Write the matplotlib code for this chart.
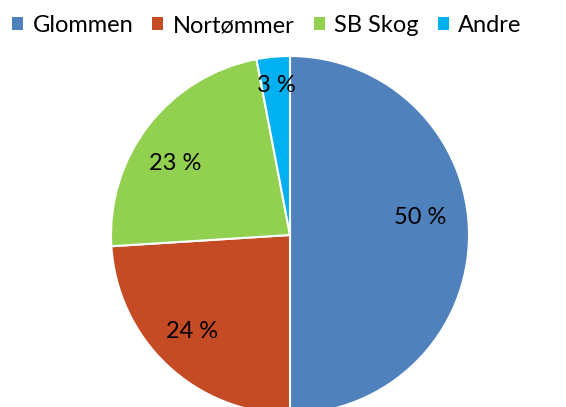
import matplotlib
matplotlib.use("Agg")
import matplotlib.pyplot as plt
from matplotlib.patches import Patch

categories = ["Glommen", "Nortømmer", "SB Skog", "Andre"]
values = [50, 24, 23, 3]
colors = ["#4F81BD", "#C54B24", "#92D050", "#00B0F0"]
label_texts = ["50 %", "24 %", "23 %", "3 %"]

plt.rcParams['font.family'] = ['Lato', 'DejaVu Sans']

W, H = 566, 407
fig = plt.figure(figsize=(W / 100, H / 100), dpi=100)
ax = fig.add_axes([0, 0, 1, 1])

cx, cy, R = 290, 235, 179  # pixels, from top
wedges, _ = ax.pie(values, colors=colors, startangle=90, counterclock=False,
                   wedgeprops=dict(edgecolor="white", linewidth=1.5))
ax.set_xlim(-cx / R, (W - cx) / R)
ax.set_ylim(-(H - cy) / R, cy / R)

# label positions (pixels) as in reference
label_px = [(420, 218), (192, 332), (175, 163), (276, 86)]
for t, (px, py) in zip(label_texts, label_px):
    ax.text((px - cx) / R, (cy - py) / R, t, ha="center", va="center",
            fontsize=17, color="black")

handles = [Patch(facecolor=c, edgecolor="none") for c in colors]
leg = fig.legend(handles, categories, loc="upper left", bbox_to_anchor=(0.009, 0.98),
                 ncol=4, frameon=False, fontsize=17, handlelength=0.47, handleheight=0.47,
                 handletextpad=0.4, columnspacing=0.8, borderaxespad=0.0,
                 borderpad=0.3)
for t in leg.get_texts():
    t.set_color("black")

fig.savefig("out.png", dpi=100)
